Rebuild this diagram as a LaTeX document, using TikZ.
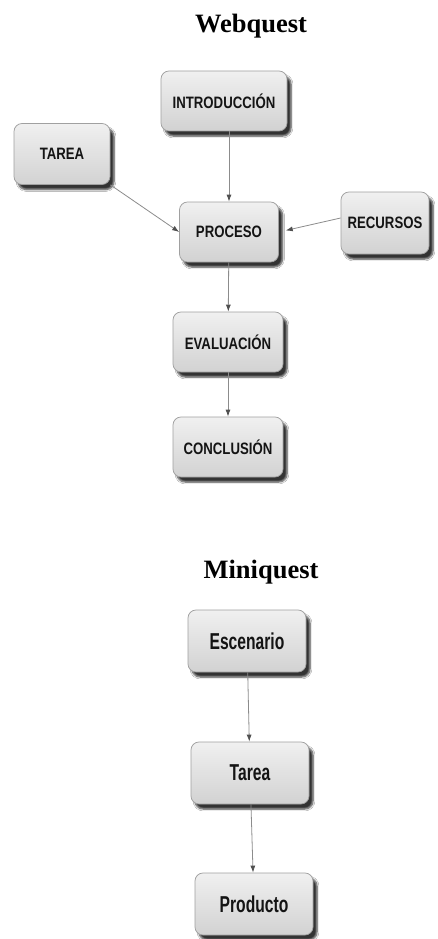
\documentclass[tikz,border=0pt]{standalone}
\usepackage{fontspec}
\setmainfont{Liberation Serif}
\newfontfamily\boxfont[FakeStretch=0.8]{Liberation Sans}
\newfontfamily\minifont[FakeStretch=0.68]{Liberation Sans}
\usetikzlibrary{arrows.meta,shadows.blur}
\tikzset{every picture/.style={line width=0.75pt}}
\tikzset{
  qbox/.style={rounded corners=8pt, draw={rgb,255:red,160;green,160;blue,160},
    top color={rgb,255:red,240;green,240;blue,240}, bottom color={rgb,255:red,210;green,210;blue,210},
    blur shadow={shadow xshift=4pt, shadow yshift=-5pt, shadow blur steps=6, shadow opacity=80},
    inner sep=0pt, text={rgb,255:red,20;green,20;blue,20}},
  upbox/.style={qbox, minimum height=60pt, font=\boxfont\bfseries\fontsize{16.5}{18}\selectfont},
  lowbox/.style={qbox, minimum height=62pt, minimum width=118pt, font=\minifont\bfseries\fontsize{23}{26}\selectfont},
  qtitle/.style={anchor=base, font=\bfseries\fontsize{26.5}{30}\selectfont},
  qarrow/.style={draw={rgb,255:red,140;green,140;blue,140}, line width=0.8pt,
    -{Latex[length=7pt,width=5pt,color={rgb,255:red,80;green,80;blue,80}]}}
}

\begin{document}
\begin{tikzpicture}[x=1pt,y=-1pt]
\path[use as bounding box, fill=white] (0,0) rectangle (437,939);

%Title: Webquest
\node[qtitle] (webtitle) at (251,33) {Webquest};

%Boxes: Webquest
\node[upbox, minimum width=126pt] (intro) at (224,101) {INTRODUCCIÓN};
\node[upbox, minimum width=96pt, minimum height=61pt] (tarea) at (62,154) {TAREA};
\node[upbox, minimum width=99pt] (proceso) at (229,232) {PROCESO};
\node[upbox, minimum width=88pt, minimum height=62pt] (recursos) at (385,223) {RECURSOS};
\node[upbox, minimum width=110pt] (evaluacion) at (228,342) {EVALUACIÓN};
\node[upbox, minimum width=110pt] (conclusion) at (228,447) {CONCLUSIÓN};

%Arrows: Webquest
\draw[qarrow] (intro.south -| proceso.north) -- (proceso.north);
\draw[qarrow] (tarea.south east) -- (proceso.west);
\draw[qarrow, shorten >=7pt] ([yshift=5pt]recursos.west) -- (proceso.east);
\draw[qarrow] (proceso) -- (evaluacion);
\draw[qarrow] (evaluacion) -- (conclusion);

%Title: Miniquest
\node[qtitle] (minititle) at (261,578) {Miniquest};

%Boxes: Miniquest
\node[lowbox] (escenario) at (247,641) {Escenario};
\node[lowbox] (tareamini) at (250,773) {Tarea};
\node[lowbox] (producto) at (254,904) {Producto};

%Arrows: Miniquest
\draw[qarrow] (escenario) -- (tareamini);
\draw[qarrow] (tareamini) -- (producto);

\end{tikzpicture}
\end{document}
